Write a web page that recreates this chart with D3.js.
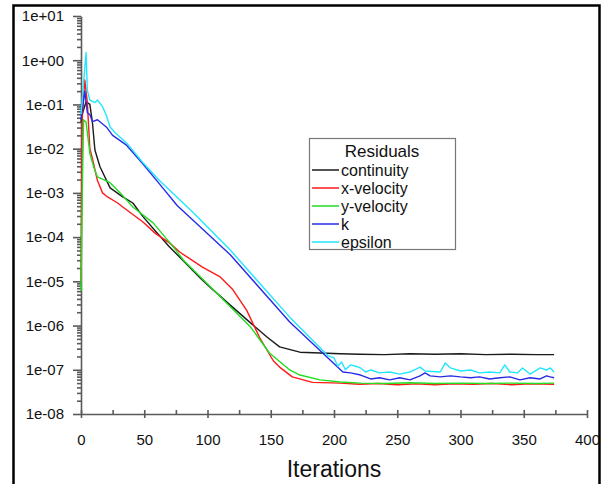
<!DOCTYPE html>
<html>
<head>
<meta charset="utf-8">
<script src="https://cdn.jsdelivr.net/npm/d3@7"></script>
<style>
  body { margin: 0; background: #fff; }
  svg { display: block; font-family: "Liberation Sans", Arial, sans-serif; }
</style>
</head>
<body>
<svg id="chart" width="605" height="484"></svg>
<script>
// residual histories (iteration, residual)
const contIter = [0, 1, 4, 7, 9, 11, 15, 23, 33, 41, 49, 60, 70, 82, 94, 102, 118, 134, 147, 157, 173, 189, 205, 220, 240, 260, 280, 300, 320, 340, 360, 374];
const contVal = [0.04, 0.06, 0.115, 0.1, 0.04, 0.0093, 0.0039, 0.0013, 8.1e-4, 5.9e-4, 2.9e-4, 1.26e-4, 6.0e-5, 2.7e-5, 1.2e-5, 7.4e-6, 2.9e-6, 1.15e-6, 5.5e-7, 3.3e-7, 2.5e-7, 2.4e-7, 2.3e-7, 2.25e-7, 2.2e-7, 2.3e-7, 2.25e-7, 2.3e-7, 2.2e-7, 2.25e-7, 2.2e-7, 2.2e-7];

const xvIter = [0, 1, 3, 5, 7, 9, 13, 17, 21, 29, 33, 49, 59, 70, 78, 96, 110, 120, 131, 141, 152, 157, 167, 183, 205, 220, 235, 250, 265, 280, 295, 310, 325, 340, 355, 374];
const xvVal = [1e-5, 0.05, 0.36, 0.11, 0.01, 0.006, 0.0019, 0.001, 8.1e-4, 5.9e-4, 4.8e-4, 2.2e-4, 1.2e-4, 7.4e-5, 4.6e-5, 2.1e-5, 1.26e-5, 6.5e-6, 2.2e-6, 5.5e-7, 1.6e-7, 1.15e-7, 6.9e-8, 5.2e-8, 5.0e-8, 4.7e-8, 4.9e-8, 4.6e-8, 4.8e-8, 4.6e-8, 4.8e-8, 4.7e-8, 4.9e-8, 4.6e-8, 4.8e-8, 4.7e-8];

const yvIter = [0, 1, 2, 4, 7, 10, 13, 23, 31, 41, 57, 73, 81, 107, 134, 149, 165, 173, 189, 205, 221, 240, 260, 280, 300, 320, 340, 360, 374];
const yvVal = [6e-6, 1e-3, 0.045, 0.04, 0.0079, 0.0039, 0.0023, 0.0017, 0.001, 4.8e-4, 2.1e-4, 6.0e-5, 3.0e-5, 5.5e-6, 9.3e-7, 2.4e-7, 9.9e-8, 7.6e-8, 5.9e-8, 5.3e-8, 5.0e-8, 4.9e-8, 5.1e-8, 4.9e-8, 5.0e-8, 4.9e-8, 5.0e-8, 4.9e-8, 5.0e-8];

const kIter = [0, 3, 5, 7, 9, 13, 20, 25, 36, 49, 62, 76, 118, 165, 207, 213, 221, 229, 236, 244, 252, 260, 268, 272, 276, 284, 292, 300, 308, 315, 323, 331, 339, 347, 355, 363, 368, 371, 374];
const kVal = [0.045, 0.2, 0.065, 0.059, 0.041, 0.045, 0.031, 0.020, 0.012, 0.0045, 0.0016, 5.2e-4, 4.0e-5, 1.2e-6, 8.9e-8, 8.5e-8, 7.6e-8, 6.2e-8, 6.6e-8, 5.9e-8, 6.6e-8, 5.9e-8, 7.3e-8, 8.5e-8, 7.3e-8, 6.9e-8, 7.3e-8, 6.9e-8, 6.6e-8, 6.9e-8, 6.2e-8, 6.6e-8, 6.9e-8, 5.9e-8, 6.6e-8, 6.2e-8, 7.3e-8, 6.9e-8, 6.6e-8];

const epsIter = [0, 2, 4, 5, 7, 11, 13, 17, 20, 23, 27, 36, 49, 62, 89, 118, 165, 195, 200, 203, 206, 209, 213, 217, 221, 225, 229, 236, 244, 252, 260, 268, 272, 284, 288, 292, 300, 308, 315, 323, 331, 335, 339, 345, 349, 355, 363, 368, 371, 374];
const epsVal = [0.06, 0.3, 1.5, 0.21, 0.126, 0.11, 0.126, 0.089, 0.057, 0.031, 0.023, 0.0135, 0.0048, 0.0019, 3.5e-4, 5.1e-5, 1.55e-6, 2.1e-7, 1.85e-7, 1.2e-7, 1.5e-7, 1.0e-7, 1.29e-7, 1.2e-7, 1.1e-7, 8.9e-8, 9.9e-8, 8.5e-8, 8.9e-8, 8.0e-8, 8.9e-8, 1.15e-7, 9.4e-8, 8.9e-8, 1.43e-7, 1.1e-7, 9.4e-8, 9.9e-8, 8.5e-8, 8.9e-8, 8.5e-8, 1.29e-7, 8.9e-8, 8.5e-8, 1.1e-7, 8.0e-8, 1.1e-7, 9.9e-8, 1.1e-7, 8.9e-8];

const seriesNames = ["continuity", "x-velocity", "y-velocity", "k", "epsilon"];
const seriesColors = ["#1a1a1a", "#ff1a1a", "#22dd22", "#2a2ae6", "#22e6ff"];
const yTickVals = [1e-8, 1e-7, 1e-6, 1e-5, 1e-4, 1e-3, 1e-2, 1e-1, 1, 10];
const yTickLabels = ["1e-08", "1e-07", "1e-06", "1e-05", "1e-04", "1e-03", "1e-02", "1e-01", "1e+00", "1e+01"];
const xTickVals = [0, 50, 100, 150, 200, 250, 300, 350, 400];

const svg = d3.select("#chart");
const axisColor = "#5a5a5a";

const x = d3.scaleLinear().domain([0, 400]).range([81, 587]);
const y = d3.scaleLog().domain([1e-8, 10]).range([414, 16]);

// outer frame
svg.append("rect")
  .attr("x", 13.5).attr("y", 5.5)
  .attr("width", 586).attr("height", 500)
  .attr("fill", "none").attr("stroke", "#000").attr("stroke-width", 2.5);

// y axis: minor log ticks then labelled decades
const minorY = [];
for (let e = -8; e < 1; e++) for (let m = 2; m <= 9; m++) minorY.push(m * Math.pow(10, e));

svg.append("g")
  .attr("transform", "translate(81,0)")
  .call(d3.axisLeft(y).tickValues(minorY).tickSize(4).tickFormat(""))
  .call(g => g.select(".domain").remove());

svg.append("g")
  .attr("transform", "translate(81,0)")
  .call(d3.axisLeft(y).tickValues(yTickVals).tickSize(8).tickSizeOuter(0).tickPadding(9)
    .tickFormat((d, i) => yTickLabels[i]))
  .call(g => g.selectAll("text").attr("font-size", 15).attr("fill", "#111").attr("font-family", "Liberation Sans, Arial, sans-serif"));

// x axis
const minorX = d3.range(0, 401, 25);
svg.append("g")
  .attr("transform", "translate(0,414)")
  .call(d3.axisBottom(x).tickValues(minorX).tickSize(-4).tickFormat(""))
  .call(g => g.select(".domain").remove());

svg.append("g")
  .attr("transform", "translate(0,414)")
  .call(d3.axisBottom(x).tickValues(xTickVals).tickSize(4).tickSizeOuter(0).tickPadding(16).tickFormat(d3.format("d")))
  .call(g => g.selectAll("text").attr("font-size", 15).attr("fill", "#111").attr("font-family", "Liberation Sans, Arial, sans-serif"));

svg.selectAll(".domain, .tick line").attr("stroke", axisColor).attr("stroke-width", 1.6);

svg.append("text")
  .attr("x", 334).attr("y", 477)
  .attr("text-anchor", "middle")
  .attr("font-size", 23)
  .attr("fill", "#111")
  .text("Iterations");

// curves
const allIters = [contIter, xvIter, yvIter, kIter, epsIter];
const allVals = [contVal, xvVal, yvVal, kVal, epsVal];
const line = d3.line().x(d => x(d[0])).y(d => y(d[1]));

allIters.forEach((it, s) => {
  svg.append("path")
    .datum(it.map((v, i) => [v, allVals[s][i]]))
    .attr("fill", "none")
    .attr("stroke", seriesColors[s])
    .attr("stroke-width", 1.4)
    .attr("stroke-linejoin", "round")
    .attr("d", line);
});

// legend
const lg = svg.append("g");
lg.append("rect")
  .attr("x", 309.5).attr("y", 138.5)
  .attr("width", 146).attr("height", 111)
  .attr("fill", "#fff").attr("stroke", "#777").attr("stroke-width", 1.2);

lg.append("text")
  .attr("x", 382).attr("y", 157)
  .attr("text-anchor", "middle")
  .attr("font-size", 17).attr("fill", "#111")
  .text("Residuals");

seriesNames.forEach((name, i) => {
  const ly = 170 + i * 18;
  lg.append("line")
    .attr("x1", 312).attr("x2", 339)
    .attr("y1", ly).attr("y2", ly)
    .attr("stroke", seriesColors[i]).attr("stroke-width", 1.5);
  lg.append("text")
    .attr("x", 341).attr("y", ly + 6)
    .attr("font-size", 16).attr("fill", "#111")
    .text(name);
});
</script>
</body>
</html>
